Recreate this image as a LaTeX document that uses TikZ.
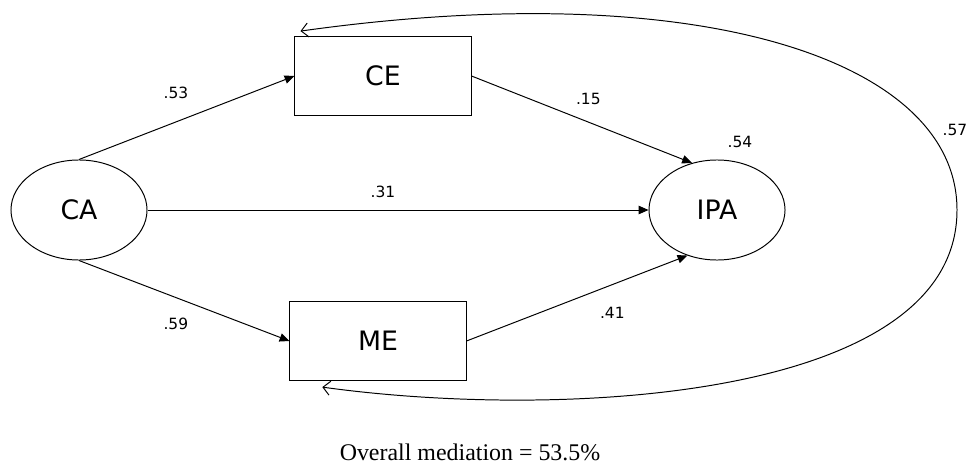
\documentclass[tikz,border=0pt]{standalone}
\usepackage{fontspec}
\setmainfont{DejaVu Sans}
\newfontfamily\notefont{Liberation Serif}
\usetikzlibrary{positioning, shapes.geometric, arrows.meta}

\begin{document}
\begin{tikzpicture}[x=0.025cm, y=-0.025cm, line width=0.7pt,
    latent/.style={draw, ellipse, inner sep=0pt, minimum width=3.4cm, minimum height=2.5cm, font=\fontsize{19}{23}\selectfont},
    observed/.style={draw, rectangle, inner sep=0pt, minimum width=4.4cm, minimum height=1.98cm, font=\fontsize{19}{23}\selectfont},
    coef/.style={inner sep=1pt, font=\fontsize{11}{13}\selectfont}]
  \useasboundingbox (0,0) rectangle (972,466);

  \node[latent] (ca) at (79,210) {CA};
  \node[latent] (ipa) at (717,210) {IPA};
  \node[observed] (ce) at (383,76) {CE};
  \node[observed] (me) at (378,341) {ME};

  \path[-{Triangle[length=7pt, width=6pt]}]
    (ca.north) edge node[coef, pos=0.45, yshift=0.72cm] {.53} (ce.west)
    (ce.east) edge node[coef, pos=0.53, yshift=0.57cm] {.15} (ipa.118)
    (ca.east) edge node[coef, pos=0.47, yshift=0.45cm] {.31} (ipa.west)
    (ca.south) edge node[coef, pos=0.46, yshift=-0.66cm] {.59} (me.west)
    (me.east) edge node[coef, pos=0.66, yshift=-0.7cm] {.41} (ipa.237);

  \node[coef] (r2) at (740,142) {.54};

  % correlation between the two mediators
  \coordinate (ceIn) at ([xshift=0.15cm, yshift=0.12cm]ce.north west);
  \coordinate (meIn) at ([xshift=0.82cm, yshift=-0.15cm]me.south west);
  \coordinate (loopR) at (957,210);
  \draw[{Straight Barb[length=5pt, width=10pt]}-{Straight Barb[length=5pt, width=10pt]}]
    (ceIn) .. controls (700,-25) and (957,60) .. (loopR)
           .. controls (957,400) and (560,420) .. (meIn);
  \node[coef] (cov) at (955,130) {.57};

  \node[font=\notefont\fontsize{17}{20}\selectfont] (note) at (470,452) {Overall mediation = 53.5\%};
\end{tikzpicture}
\end{document}
